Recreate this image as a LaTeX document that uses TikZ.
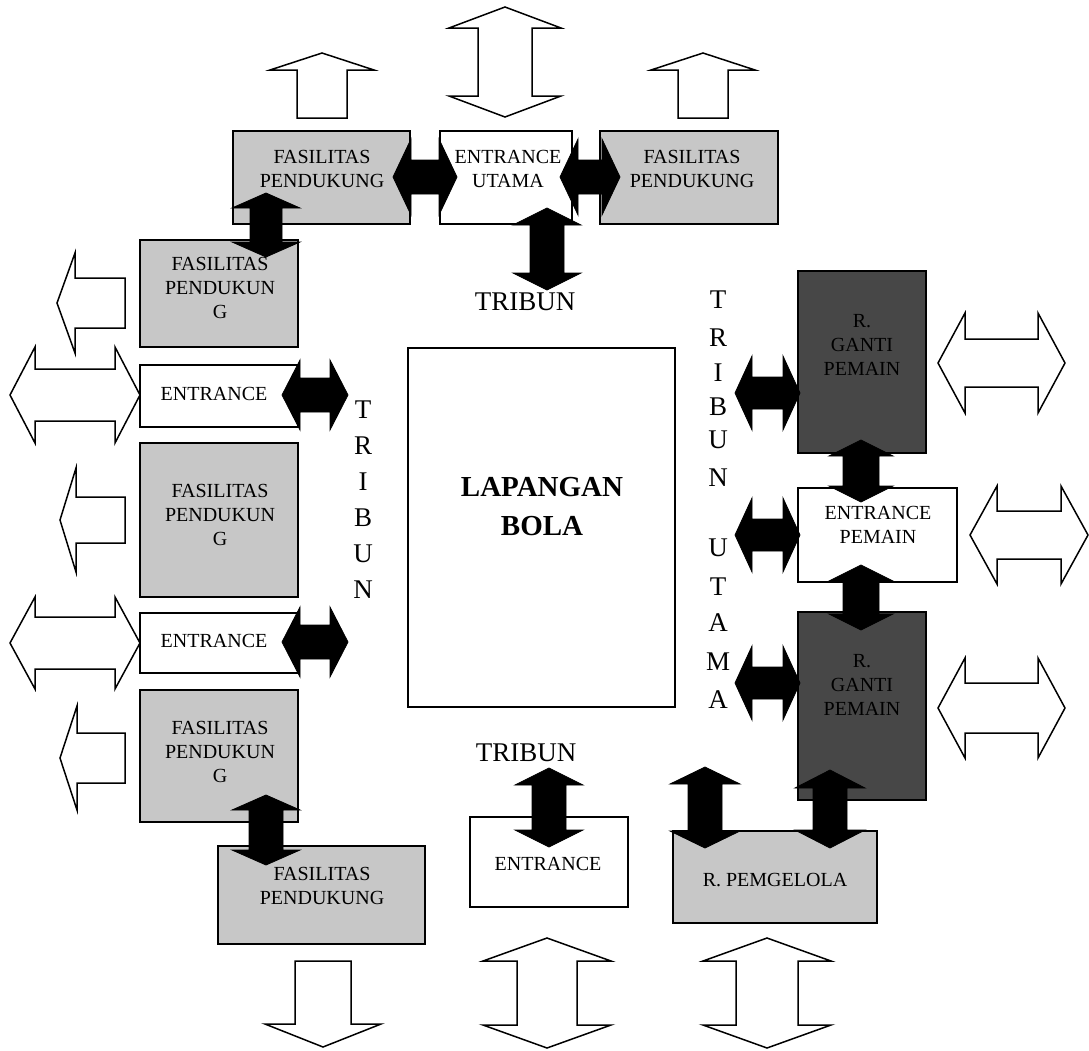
\documentclass[tikz,border=0pt]{standalone}
\usepackage{fontspec}
\setmainfont{Liberation Serif}

% vertical double block arrow: style, cx, ytop, ybottom, shaft half-width, head half-width, head length
\newcommand\darrowV[7]{%
  \path[#1] (#2,#3) -- ({#2+#6},{#3+#7}) -- ({#2+#5},{#3+#7}) -- ({#2+#5},{#4-#7})
    -- ({#2+#6},{#4-#7}) -- (#2,#4) -- ({#2-#6},{#4-#7}) -- ({#2-#5},{#4-#7})
    -- ({#2-#5},{#3+#7}) -- ({#2-#6},{#3+#7}) -- cycle;}
% horizontal double block arrow: style, cy, xleft, xright, shaft half-width, head half-width, head length
\newcommand\darrowH[7]{%
  \path[#1] (#3,#2) -- ({#3+#7},{#2-#6}) -- ({#3+#7},{#2-#5}) -- ({#4-#7},{#2-#5})
    -- ({#4-#7},{#2-#6}) -- (#4,#2) -- ({#4-#7},{#2+#6}) -- ({#4-#7},{#2+#5})
    -- ({#3+#7},{#2+#5}) -- ({#3+#7},{#2+#6}) -- cycle;}
% vertical single block arrow: style, cx, ytip, yheadbase, ytail, shaft half-width, head half-width
\newcommand\sarrowV[7]{%
  \path[#1] (#2,#3) -- ({#2+#7},#4) -- ({#2+#6},#4) -- ({#2+#6},#5)
    -- ({#2-#6},#5) -- ({#2-#6},#4) -- ({#2-#7},#4) -- cycle;}
% horizontal single block arrow: style, cy, xtip, xheadbase, xtail, shaft half-width, head half-width
\newcommand\sarrowH[7]{%
  \path[#1] (#3,#2) -- (#4,{#2-#7}) -- (#4,{#2-#6}) -- (#5,{#2-#6})
    -- (#5,{#2+#6}) -- (#4,{#2+#6}) -- (#4,{#2+#7}) -- cycle;}

\begin{document}
\begin{tikzpicture}[x=1pt,y=-1pt,
  box/.style={draw=black, line width=1.6pt, inner sep=0pt},
  light/.style={box, fill=black!22},
  plain/.style={box, fill=white},
  dark/.style={box, fill=black!72},
  solidarrow/.style={fill=black, draw=black, line width=0.8pt, line join=miter},
  openarrow/.style={fill=white, draw=black, line width=1.5pt, line join=miter},
  lbl/.style={font=\fontsize{20}{24}\selectfont, align=center, inner sep=0pt},
  big/.style={font=\fontsize{27}{30}\selectfont, inner sep=0pt},
  field/.style={font=\bfseries\fontsize{29}{39}\selectfont, align=center, inner sep=0pt},
  vert/.style={font=\fontsize{27}{30}\selectfont, inner sep=0pt}]
\useasboundingbox (0,0) rectangle (1089,1050);
\fill[white] (0,0) rectangle (1089,1050);

% ---------- outlined exit arrows ----------
\sarrowV{openarrow}{322}{53}{70}{118}{25}{52}
\darrowV{openarrow}{505}{7}{117}{27}{56}{21}
\sarrowV{openarrow}{703}{53}{70}{118}{25}{52}

\sarrowH{openarrow}{303}{57}{75}{125}{25}{50}
\darrowH{openarrow}{395}{10}{140}{26}{48}{25}
\sarrowH{openarrow}{520}{60}{76}{125}{23}{52}
\darrowH{openarrow}{643}{10}{140}{26}{46}{25}
\sarrowH{openarrow}{758}{60}{77}{125}{25}{52}

\darrowH{openarrow}{363}{938}{1065}{24}{50}{27}
\darrowH{openarrow}{535}{970}{1088}{24}{49}{27}
\darrowH{openarrow}{708}{938}{1065}{25}{50}{27}

\sarrowV{openarrow}{323}{1047}{1024}{961}{28}{58}
\darrowV{openarrow}{547}{938}{1048}{30}{64}{23}
\darrowV{openarrow}{767}{938}{1048}{31}{64}{23}

% ---------- rooms ----------
\node[light, minimum width=177, minimum height=93] (fpTL) at (321.5,177.5) {};
\node[plain, minimum width=132, minimum height=93] (entU) at (506,177.5) {};
\node[light, minimum width=178, minimum height=93] (fpTR) at (689,177.5) {};

\node[light, minimum width=158, minimum height=107] (fp1) at (219,293.5) {};
\node[plain, minimum width=158, minimum height=62] (ent1) at (219,396) {};
\node[light, minimum width=158, minimum height=154] (fp2) at (219,520) {};
\node[plain, minimum width=158, minimum height=60] (ent2) at (219,643) {};
\node[light, minimum width=158, minimum height=132] (fp3) at (219,756) {};

\node[plain, minimum width=267, minimum height=359] (field) at (541.5,527.5) {};

\node[dark, minimum width=128, minimum height=182] (rg1) at (862,362) {};
\node[plain, minimum width=159, minimum height=94] (entP) at (877.5,535) {};
\node[dark, minimum width=128, minimum height=188] (rg2) at (862,706) {};

\node[light, minimum width=207, minimum height=98] (fpB) at (321.5,895) {};
\node[plain, minimum width=158, minimum height=90] (entB) at (549,862) {};
\node[light, minimum width=204, minimum height=92] (mgr) at (775,877) {};

% ---------- solid connections ----------
\darrowH{solidarrow}{177}{393}{457}{17}{38}{18}
\darrowH{solidarrow}{177}{560}{620}{17}{38}{18}
\darrowV{solidarrow}{266}{193}{257}{16}{34}{15}
\darrowV{solidarrow}{547}{208}{290}{17}{34}{17}

\darrowH{solidarrow}{395}{282}{348}{17}{35}{18}
\darrowH{solidarrow}{642}{282}{348}{17}{35}{18}

\darrowH{solidarrow}{393}{735}{800}{16}{37}{17}
\darrowH{solidarrow}{535}{735}{800}{16}{37}{17}
\darrowH{solidarrow}{683}{735}{800}{16}{37}{17}
\darrowV{solidarrow}{861}{440}{502}{18}{32}{16}
\darrowV{solidarrow}{861}{565}{630}{18}{32}{16}

\darrowV{solidarrow}{266}{795}{865}{17}{34}{15}
\darrowV{solidarrow}{549}{768}{847}{17}{34}{17}
\darrowV{solidarrow}{705}{767}{848}{17}{35}{17}
\darrowV{solidarrow}{830}{770}{848}{17}{35}{18}

% ---------- labels ----------
\node[lbl] (tFpTL) at (322,169) {FASILITAS\\PENDUKUNG};
\node[lbl] (tEntU) at (508,169) {ENTRANCE\\UTAMA};
\node[lbl] (tFpTR) at (692,169) {FASILITAS\\PENDUKUNG};

\node[lbl] (tFp1) at (220,288) {FASILITAS\\PENDUKUN\\G};
\node[lbl] (tEnt1) at (214,394) {ENTRANCE};
\node[lbl] (tFp2) at (220,515) {FASILITAS\\PENDUKUN\\G};
\node[lbl] (tEnt2) at (214,641) {ENTRANCE};
\node[lbl] (tFp3) at (220,752) {FASILITAS\\PENDUKUN\\G};

\node[field] (tField) at (542,507) {LAPANGAN\\BOLA};

\node[lbl] (tRg1) at (862,345) {R.\\GANTI\\PEMAIN};
\node[lbl] (tEntP) at (878,525) {ENTRANCE\\PEMAIN};
\node[lbl] (tRg2) at (862,685) {R.\\GANTI\\PEMAIN};

\node[lbl] (tFpB) at (322,886) {FASILITAS\\PENDUKUNG};
\node[lbl] (tEntB) at (548,864) {ENTRANCE};
\node[lbl] (tMgr) at (775,880) {R. PEMGELOLA};

\node[big] (tribTop) at (525,302) {TRIBUN};
\node[big] (tribBot) at (526,753) {TRIBUN};

% vertical stand names
\foreach \ch [count=\i] in {T,R,I,B,U,N}
  \node[vert] (tl\i) at (363,{374+36*\i}) {\ch};
\foreach \ch/\yy [count=\i] in {T/300,R/338,I/373,B/407,U/440,N/478,U/548,T/587,A/623,M/662,A/700}
  \node[vert] (tr\i) at (718,\yy) {\ch};
\end{tikzpicture}
\end{document}
